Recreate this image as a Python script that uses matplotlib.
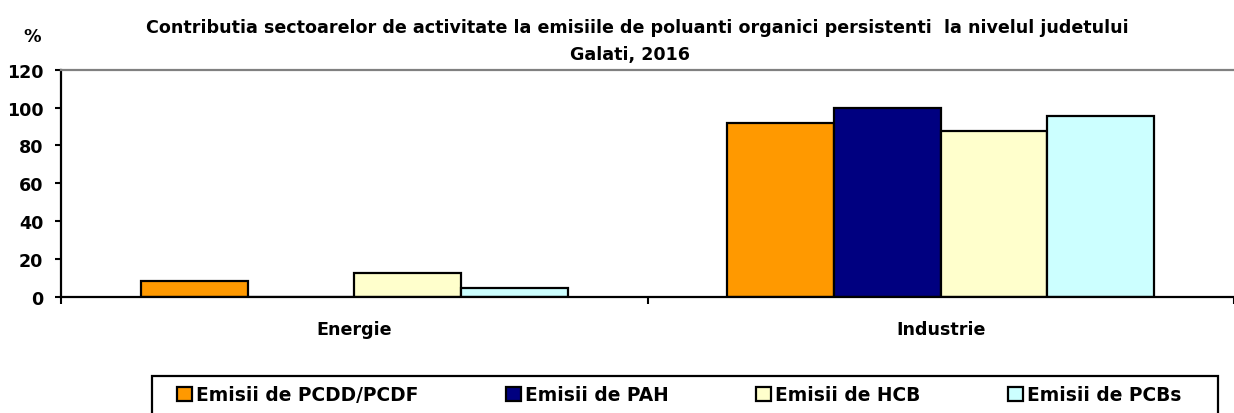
import matplotlib
matplotlib.use("Agg")
import matplotlib.pyplot as plt
import numpy as np
from matplotlib.patches import Rectangle

categories = ["Energie", "Industrie"]
series_names = ["Emisii de PCDD/PCDF", "Emisii de PAH", "Emisii de HCB", "Emisii de PCBs"]
pcdd_pcdf = [8.2, 91.8]
pah = [0.0, 100.0]
hcb = [12.4, 87.6]
pcbs = [4.6, 95.4]
yticks = [0, 20, 40, 60, 80, 100, 120]

series = [pcdd_pcdf, pah, hcb, pcbs]
colors = ["#FF9900", "#000080", "#FFFFCC", "#CCFFFF"]

plt.rcParams['font.family'] = ['DejaVu Sans']
FS = 12.6
LFS = 13.4

W, H = 1234, 414
fig = plt.figure(figsize=(W / 100, H / 100), dpi=100)
ax = fig.add_axes([61 / W, (H - 297.7) / H, (W - 61) / W, 227 / H])

x = np.arange(len(categories))
bw = 0.182
handles = []
for i, (vals, c, name) in enumerate(zip(series, colors, series_names)):
    b = ax.bar(x + (i - 1.5) * bw, vals, bw, color=c, edgecolor="black",
               linewidth=1.6, label=name, zorder=3)
    handles.append(b)

ax.set_xlim(-0.5, -0.5 + (W - 61) / 591)
ax.set_ylim(0, 120)
ax.set_yticks(yticks)
ax.set_yticklabels([str(v) for v in yticks], fontsize=FS, fontweight="bold")
ax.set_xticks(x)
ax.set_xticklabels(categories, fontsize=FS, fontweight="bold")
ax.set_xticks([-0.5, 0.5, 1.5], minor=True)
ax.tick_params(axis="x", which="major", length=0, pad=17)
ax.tick_params(axis="x", which="minor", length=5, width=1.5, direction="out")
ax.tick_params(axis="y", length=4.3, width=1.5, direction="out", pad=8.5)

ax.spines["right"].set_visible(False)
ax.spines["top"].set_color("#808080")
ax.spines["top"].set_linewidth(1.6)
ax.spines["left"].set_linewidth(1.6)
ax.spines["bottom"].set_linewidth(1.6)
ax.spines["bottom"].set_zorder(4)

fig.text(637 / W, 1 - 33 / H,
         "Contributia sectoarelor de activitate la emisiile de poluanti organici persistenti  la nivelul judetului",
         ha="center", va="baseline", fontsize=FS, fontweight="bold")
fig.text(630 / W, 1 - 60 / H, "Galati, 2016", ha="center", va="baseline",
         fontsize=FS, fontweight="bold")
fig.text(32 / W, 1 - 42 / H, "%", ha="center", va="baseline", fontsize=FS, fontweight="bold")

# legend frame
fig.patches.append(Rectangle((152 / W, -0.02), (1218 - 152) / W, 0.02 + (H - 377) / H,
                             transform=fig.transFigure, fill=False, edgecolor="black",
                             linewidth=1.6))
leg = fig.legend(handles=handles, loc="center left", bbox_to_anchor=(177 / W, 18 / H),
                 ncol=4, frameon=False, borderpad=0, borderaxespad=0,
                 handlelength=0.8, handleheight=0.75, handletextpad=0.22,
                 columnspacing=4.7, prop={"size": LFS, "weight": "bold"})

fig.savefig("out.png", dpi=100)
